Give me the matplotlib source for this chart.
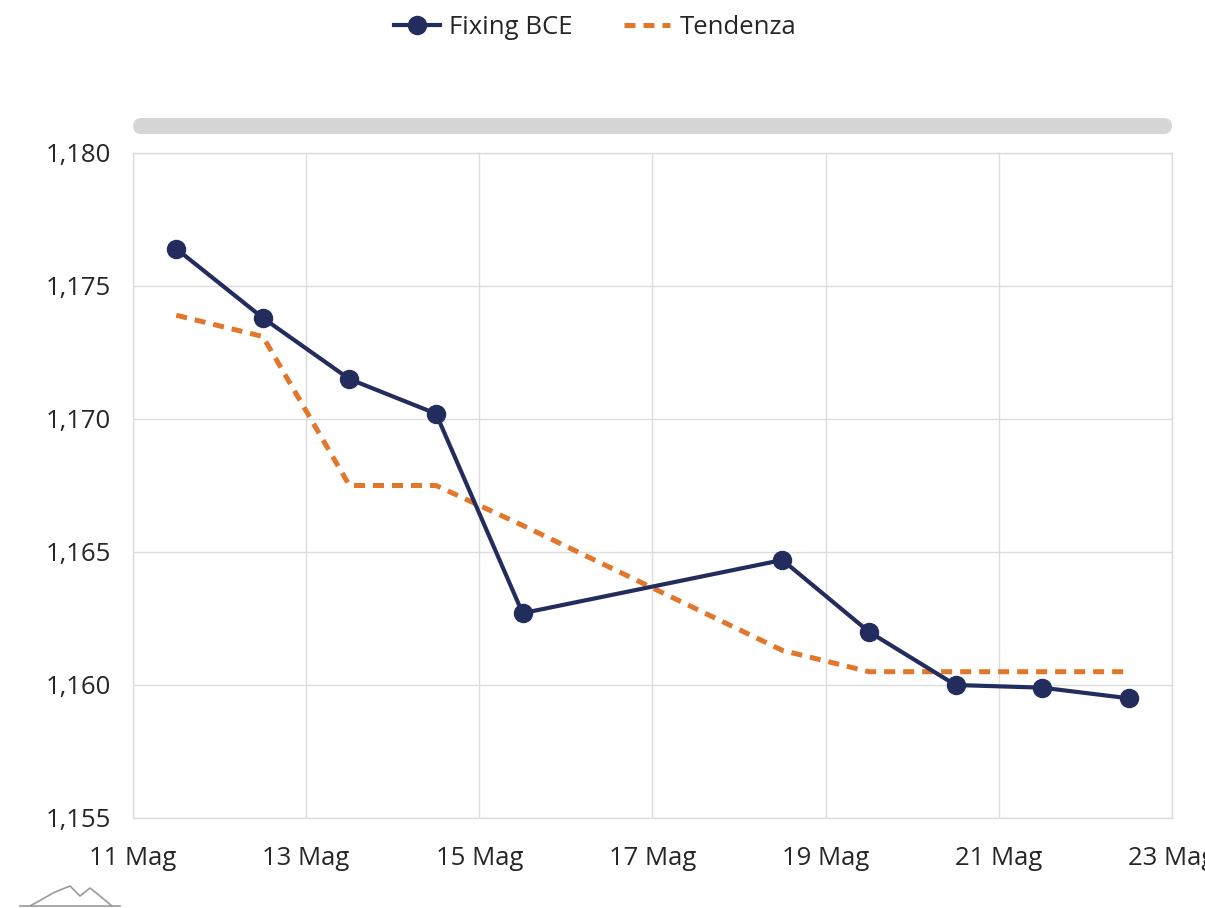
import matplotlib
matplotlib.use("Agg")
import matplotlib.pyplot as plt
from matplotlib.patches import FancyBboxPatch
from matplotlib.ticker import FuncFormatter, MultipleLocator
from matplotlib.lines import Line2D
import pandas as pd

plt.rcParams['font.family'] = ['Open Sans', 'DejaVu Sans']

dates = pd.to_datetime([
    "2025-05-11 12:00", "2025-05-12 12:00", "2025-05-13 12:00", "2025-05-14 12:00",
    "2025-05-15 12:00", "2025-05-18 12:00", "2025-05-19 12:00", "2025-05-20 12:00",
    "2025-05-21 12:00", "2025-05-22 12:00",
])
fixing_bce = [1.1764, 1.1738, 1.1715, 1.1702, 1.1627, 1.1647, 1.1620, 1.1600, 1.1599, 1.1595]
tendenza = [1.1739, 1.1731, 1.1675, 1.1675, 1.1660, 1.1613, 1.1605, 1.1605, 1.1605, 1.1605]
tick_dates = pd.date_range("2025-05-11", "2025-05-23", freq="2D")
tick_labels = [f"{d.day} Mag" for d in tick_dates]
series_names = ["Fixing BCE", "Tendenza"]

NAVY = "#222d5e"
ORANGE = "#e2762a"
GRID = "#dcdcdc"
TXT = "#262626"
FS = 18.5

W, H = 1205, 908
fig = plt.figure(figsize=(W / 100, H / 100), dpi=100)
left, right, top, bottom = 133, 1172, 153, 818
ax = fig.add_axes([left / W, 1 - bottom / H, (right - left) / W, (bottom - top) / H])

ax.plot(dates, tendenza, color=ORANGE, lw=3.6, linestyle=(0, (2.2, 1.6)), zorder=2)
ax.plot(dates, fixing_bce, color=NAVY, lw=3.0, marker="o", markersize=13, zorder=3)

ax.set_xlim(pd.Timestamp("2025-05-11 01:00"), pd.Timestamp("2025-05-23 00:00"))
ax.set_ylim(1.155, 1.180)
ax.yaxis.set_major_locator(MultipleLocator(0.005))
ax.yaxis.set_major_formatter(FuncFormatter(lambda v, p: f"{v:.3f}".replace(".", ",")))
ax.set_xticks(tick_dates)
ax.set_xticklabels(tick_labels)

ax.grid(True, color=GRID, lw=1.0)
ax.set_axisbelow(True)
for s in ax.spines.values():
    s.set_color(GRID)
    s.set_linewidth(1.0)
ax.tick_params(axis="both", length=0, labelsize=FS, colors=TXT)
ax.tick_params(axis="y", pad=16)
ax.tick_params(axis="x", pad=20)

# scrollbar
bar = FancyBboxPatch((left / W, 1 - 134 / H), (right - left) / W, 16 / H,
                     boxstyle="round,pad=0,rounding_size=0.007",
                     transform=fig.transFigure, facecolor="#d6d6d6", edgecolor="none",
                     mutation_aspect=W / H)
fig.patches.append(bar)

# legend
handles = [
    Line2D([], [], color=NAVY, lw=3.0, marker="o", markersize=13),
    Line2D([], [], color=ORANGE, lw=3.6, linestyle=(0, (2.2, 1.6))),
]
fig.legend(handles, series_names, loc="center", bbox_to_anchor=(595 / W, 1 - 27 / H),
           ncol=2, frameon=False, fontsize=FS, handlelength=1.8, handletextpad=0.35,
           columnspacing=2.0, labelcolor=TXT)

# small logo at bottom-left
lx = [30 / W, 55 / W, 70 / W, 80 / W, 90 / W, 100 / W, 112 / W]
ly = [1 - 906 / H, 1 - 892 / H, 1 - 886 / H, 1 - 896 / H, 1 - 888 / H, 1 - 896 / H, 1 - 906 / H]
fig.add_artist(Line2D(lx, ly, color="#9a9a9a", lw=1.2, transform=fig.transFigure))
fig.add_artist(Line2D([20 / W, 120 / W], [1 - 906 / H, 1 - 906 / H], color="#9a9a9a", lw=1.2,
                      transform=fig.transFigure))

fig.savefig("out.png", dpi=100)
